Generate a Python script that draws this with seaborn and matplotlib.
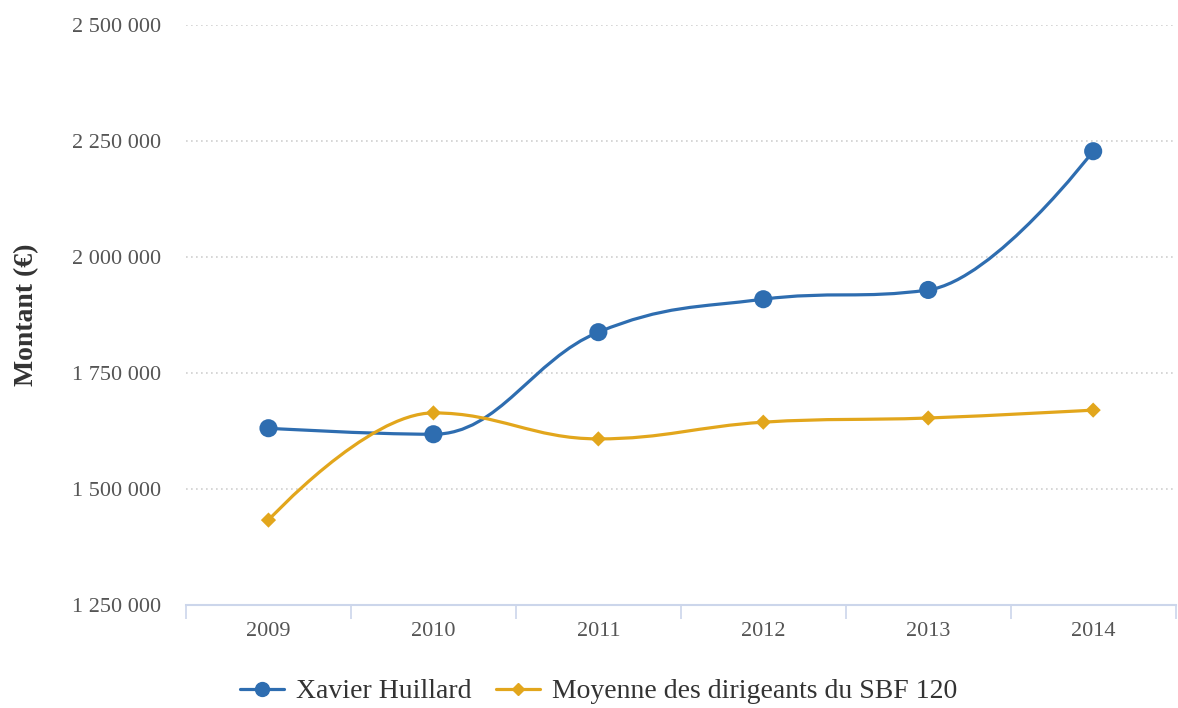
import numpy as np
import pandas as pd
import seaborn as sns
import matplotlib
matplotlib.use("Agg")
import matplotlib.pyplot as plt
from matplotlib.path import Path
from matplotlib.patches import PathPatch
from matplotlib.lines import Line2D
from matplotlib.ticker import FuncFormatter, FixedLocator

### données
annees = [2009, 2010, 2011, 2012, 2013, 2014]
xavier = [1631000, 1618000, 1838000, 1909000, 1929000, 2228000]
moyenne = [1433000, 1664000, 1608000, 1644000, 1653000, 1670000]
noms = ["Xavier Huillard", "Moyenne des dirigeants du SBF 120"]
ticks_y = [1250000, 1500000, 1750000, 2000000, 2250000, 2500000]

bleu = "#2e6db0"
orange = "#e2a61c"

df = pd.DataFrame({
    "annee": annees * 2,
    "montant": xavier + moyenne,
    "serie": [noms[0]] * 6 + [noms[1]] * 6,
})

sns.set_style("white")
plt.rcParams["font.family"] = ["Liberation Serif", "DejaVu Serif"]


## courbe lissée façon "spline" (points de contrôle bezier)
def spline_path(xs, ys, smoothing=1.5):
    n = len(xs)
    denom = smoothing + 1
    left = [(xs[0], ys[0])] * n
    right = [(xs[0], ys[0])] * n
    for i in range(n):
        x, y = xs[i], ys[i]
        if i == 0 or i == n - 1:
            left[i] = (x, y)
            right[i] = (x, y)
            continue
        lx, ly = xs[i - 1], ys[i - 1]
        nx, ny = xs[i + 1], ys[i + 1]
        lcx = (smoothing * x + lx) / denom
        lcy = (smoothing * y + ly) / denom
        rcx = (smoothing * x + nx) / denom
        rcy = (smoothing * y + ny) / denom
        corr = ((rcy - lcy) * (rcx - x)) / (rcx - lcx) + y - rcy
        lcy += corr
        rcy += corr
        if lcy > ly and lcy > y:
            lcy = max(ly, y)
            rcy = 2 * y - lcy
        elif lcy < ly and lcy < y:
            lcy = min(ly, y)
            rcy = 2 * y - lcy
        if rcy > ny and rcy > y:
            rcy = max(ny, y)
            lcy = 2 * y - rcy
        elif rcy < ny and rcy < y:
            rcy = min(ny, y)
            lcy = 2 * y - rcy
        left[i] = (lcx, lcy)
        right[i] = (rcx, rcy)
    verts = [(xs[0], ys[0])]
    codes = [Path.MOVETO]
    for i in range(1, n):
        verts += [right[i - 1], left[i], (xs[i], ys[i])]
        codes += [Path.CURVE4] * 3
    return Path(verts, codes)


fig = plt.figure(figsize=(11.78, 7.08), dpi=100)
ax = fig.add_axes([186 / 1178, 1 - 605 / 708, 1 - 186 / 1178 - 0.002, (605 - 25) / 708])

for serie, couleur in zip([xavier, moyenne], [bleu, orange]):
    p = spline_path(annees, serie)
    ax.add_patch(PathPatch(p, facecolor="none", edgecolor=couleur, lw=2.3,
                           capstyle="round", zorder=2))

sns.scatterplot(data=df, x="annee", y="montant", hue="serie", style="serie",
                palette=[bleu, orange], markers=["o", "D"], size="serie",
                sizes=[170, 60], edgecolor="none", legend=False, ax=ax, zorder=3)

ax.set_xlim(2008.5, 2014.5)
ax.set_ylim(1250000, 2500000)
ax.set_yticks(ticks_y)
ax.yaxis.set_major_formatter(FuncFormatter(lambda v, p: f"{int(v):,}".replace(",", " ")))
ax.set_xticks(annees)
ax.xaxis.set_minor_locator(FixedLocator([2008.5 + i for i in range(7)]))
ax.tick_params(axis="x", which="major", bottom=False, length=0, pad=12, labelsize=16, labelcolor="#555555")
ax.tick_params(axis="x", which="minor", bottom=True, length=10, width=1.2, color="#ccd6eb", direction="out")
ax.tick_params(axis="y", left=False, length=0, pad=18, labelsize=16, labelcolor="#555555")

for y in ticks_y[1:]:
    ax.axhline(y, color="#cfcfcf", lw=1.2, ls=(0, (1, 2)), zorder=1)

for s in ["top", "right", "left"]:
    ax.spines[s].set_visible(False)
ax.spines["bottom"].set_color("#ccd6eb")
ax.spines["bottom"].set_linewidth(1.5)

ax.set_xlabel("")
ax.set_ylabel("Montant (€)", fontsize=20, fontweight="bold", color="#333333")
ax.yaxis.set_label_coords(-0.148, 0.5)

handles = [
    Line2D([], [], color=bleu, lw=2.3, marker="o", ms=10),
    Line2D([], [], color=orange, lw=2.3, marker="D", ms=6.5),
]
fig.legend(handles, noms, loc="lower center", bbox_to_anchor=(0.508, -0.03), ncol=2,
           frameon=False, fontsize=20, handlelength=1.6, handletextpad=0.4,
           columnspacing=0.9, labelcolor="#333333")

fig.savefig("out.png", dpi=100, facecolor="white")
